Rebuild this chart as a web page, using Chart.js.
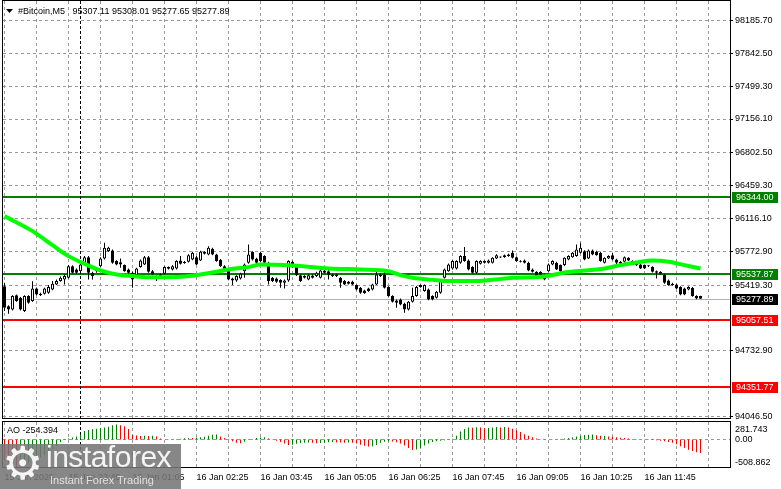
<!DOCTYPE html>
<html>
<head>
<meta charset="UTF-8">
<title>#Bitcoin,M5</title>
<script src="https://cdn.jsdelivr.net/npm/chart.js@4.4.1/dist/chart.umd.min.js"></script>
<style>
  body { margin: 0; background: #fff; width: 781px; height: 489px; overflow: hidden; position: relative; }
  #mainBox { position: absolute; left: 0; top: 0; width: 781px; height: 420px; }
  #aoBox { position: absolute; left: 0; top: 420px; width: 781px; height: 69px; }
  #logo { position: absolute; left: 0; top: 444px; width: 181px; height: 45px; background: rgba(118,118,118,0.88); color: rgba(255,255,255,0.92); overflow: hidden; font-family: "Liberation Sans", Arial, sans-serif; }
  #logo .gear { position: absolute; left: 2px; top: -7px; font: 46px/52px "DejaVu Sans"; }
  #logo .brand { position: absolute; left: 46px; top: -4px; font-size: 30px; line-height: 34px; letter-spacing: -0.5px; }
  #logo .slogan { position: absolute; left: 50px; top: 29px; font-size: 11px; line-height: 14px; color: rgba(255,255,255,0.75); }
</style>
</head>
<body>
<div id="mainBox"><canvas id="mainChart"></canvas></div>
<div id="aoBox"><canvas id="aoChart"></canvas></div>
<div id="logo"><span class="gear">⚙</span><span class="brand">instaforex</span><span class="slogan">Instant Forex Trading</span></div>
<script>
// M5 bars, oldest first (15 Jan 22:25 ... 16 Jan 12:55)
const open = [
  95409,95200,95166,95315,95287,95148,95305,95253,95385,95329,
  95329,95340,95375,95427,95462,95479,95496,95618,95584,95566,
  95636,95712,95549,95566,95618,95699,95775,95782,95671,95660,
  95629,95584,95549,95524,95608,95636,95712,95566,95514,95514,
  95538,95591,95584,95594,95678,95664,95664,95688,95712,95678,
  95768,95740,95800,95740,95685,95618,95573,95490,95469,95490,
  95566,95653,95765,95695,95758,95723,95653,95496,95490,95472,
  95444,95469,95664,95618,95524,95496,95479,95520,95514,95496,
  95573,95566,95531,95531,95496,95462,95455,95455,95420,95392,
  95364,95385,95375,95427,95514,95531,95399,95305,95260,95270,
  95225,95166,95246,95305,95420,95357,95375,95305,95287,95340,
  95496,95566,95594,95594,95653,95723,95678,95608,95549,95643,
  95653,95653,95653,95699,95715,95712,95723,95758,95712,95672,
  95678,95653,95584,95559,95559,95531,95566,95636,95653,95629,
  95629,95688,95712,95723,95758,95775,95699,95782,95768,95758,
  95653,95699,95733,95688,95664,95664,95705,95653,95653,95636,
  95629,95620,95608,95566,95559,95531,95469,95434,95427,95399,
  95385,95375,95392,95305,95307.11
];
const high = [
  95444,95210,95315,95322,95295,95315,95315,95461,95395,95340,
  95392,95420,95462,95479,95510,95531,95630,95628,95594,95671,
  95723,95723,95559,95594,95712,95862,95820,95792,95680,95698,
  95636,95594,95559,95601,95688,95723,95723,95577,95524,95540,
  95618,95615,95628,95680,95723,95671,95743,95768,95723,95778,
  95775,95827,95810,95747,95692,95628,95584,95496,95524,95549,
  95646,95845,95775,95705,95768,95733,95663,95505,95500,95482,
  95479,95680,95675,95628,95531,95524,95531,95531,95559,95584,
  95584,95577,95540,95540,95505,95472,95462,95465,95427,95400,
  95372,95392,95434,95573,95540,95584,95409,95315,95270,95280,
  95235,95255,95392,95410,95427,95427,95385,95315,95357,95472,
  95594,95646,95680,95680,95733,95817,95688,95618,95680,95680,
  95678,95688,95712,95743,95720,95740,95747,95782,95720,95680,
  95688,95663,95594,95566,95566,95540,95646,95680,95663,95636,
  95712,95733,95765,95845,95862,95785,95792,95792,95778,95768,
  95712,95733,95758,95695,95671,95720,95712,95680,95660,95646,
  95636,95628,95618,95573,95566,95538,95479,95444,95434,95409,
  95392,95409,95399,95315,95308.01
];
const low = [
  95148,95120,95155,95245,95155,95140,95225,95245,95315,95305,
  95322,95330,95365,95420,95455,95427,95490,95540,95538,95559,
  95628,95479,95479,95549,95608,95688,95765,95643,95628,95601,
  95559,95538,95392,95514,95601,95629,95549,95524,95462,95505,
  95531,95584,95573,95584,95636,95643,95656,95680,95629,95671,
  95740,95733,95733,95664,95608,95566,95470,95420,95455,95479,
  95496,95643,95678,95643,95660,95643,95427,95452,95445,95392,
  95385,95455,95600,95514,95452,95490,95470,95490,95505,95490,
  95540,95479,95505,95505,95392,95420,95427,95420,95365,95330,
  95329,95350,95364,95420,95505,95385,95297,95238,95183,95210,
  95131,95155,95238,95297,95392,95350,95262,95262,95280,95330,
  95490,95559,95584,95584,95643,95664,95573,95540,95538,95636,
  95646,95646,95646,95692,95702,95705,95716,95698,95664,95656,
  95646,95566,95552,95505,95505,95470,95559,95628,95577,95559,
  95620,95680,95705,95716,95750,95680,95692,95733,95726,95664,
  95646,95692,95680,95608,95636,95656,95671,95646,95620,95587,
  95587,95608,95552,95489,95531,95434,95413,95413,95378,95315,
  95315,95367,95297,95273,95277.65
];
const close = [
  95183,95166,95305,95253,95166,95305,95235,95385,95322,95315,
  95385,95399,95434,95462,95496,95514,95618,95549,95549,95636,
  95712,95549,95514,95584,95699,95810,95810,95653,95636,95636,
  95566,95549,95479,95594,95678,95712,95559,95531,95496,95531,
  95608,95608,95618,95671,95643,95650,95733,95758,95636,95768,
  95747,95810,95740,95671,95618,95573,95479,95469,95514,95538,
  95636,95740,95688,95653,95671,95653,95462,95462,95455,95444,
  95469,95671,95608,95524,95462,95514,95524,95496,95549,95573,
  95549,95524,95514,95514,95444,95427,95434,95427,95375,95340,
  95336,95357,95427,95531,95531,95392,95305,95246,95235,95218,
  95166,95246,95305,95399,95399,95420,95270,95270,95350,95462,
  95584,95636,95671,95671,95723,95671,95584,95549,95671,95671,
  95671,95678,95705,95733,95709,95733,95740,95705,95671,95664,
  95653,95573,95559,95514,95514,95479,95636,95671,95584,95566,
  95705,95723,95758,95793,95810,95688,95782,95740,95733,95671,
  95705,95723,95688,95653,95643,95712,95678,95671,95629,95594,
  95594,95616,95559,95549,95538,95444,95420,95420,95385,95322,
  95322,95399,95305,95280,95277.89
];

// moving average, read at these bar numbers
const maBar   = [0, 7, 12, 16, 20, 24, 28, 32, 36, 41, 45, 49, 53, 57, 61, 64, 72, 81,
                 89, 96, 99, 102, 107, 112, 117, 122, 127, 134, 141, 150, 154, 158, 162, 166, 170, 174];
const maValue = [96141, 95984, 95837, 95723, 95643, 95573, 95531, 95514, 95503, 95503, 95510, 95531,
                 95559, 95590, 95608, 95636, 95625, 95594, 95583, 95566, 95524, 95496, 95476, 95462,
                 95462, 95476, 95496, 95507, 95556, 95594, 95629, 95657, 95678, 95664, 95629, 95594];

// Awesome Oscillator, one value per bar
const aoValue = [
  -380,-430,-475,-508.862,-495,-470,-440,-405,-370,-330,
  -290,-240,-180,-120,-50,10,20,40,60,90,
  160,180,195,205,215,225,240,270,281.743,270,
  250,200,85,75,68,72,66,70,60,20,
  3,-5,8,12,15,25,30,28,40,45,
  55,70,90,95,60,30,-10,-30,-60,-70,
  -40,-10,10,30,40,45,20,5,-20,-45,
  -75,-100,-95,-80,-65,-60,-55,-60,-70,-65,
  -58,-50,-45,-50,-55,-60,-55,-60,-75,-95,
  -115,-130,-125,-100,-60,-40,-30,-35,-50,-75,
  -110,-160,-195,-185,-160,-110,-75,-45,-30,-22,
  -15,-5,15,70,150,200,225,220,232,225,
  212,218,226,234,228,236,225,205,175,140,
  100,70,45,20,5,-5,3,8,4,10,
  18,30,45,58,72,84,92,95,80,72,
  74,60,50,42,35,28,20,12,6,2,
  -3,-1,-8,-15,-22,-30,-45,-60,-90,-125,
  -160,-190,-215,-238,-254.394
];

const timeTicks = ['15 Jan 2026', '15 Jan 23:45', '16 Jan 01:05', '16 Jan 02:25', '16 Jan 03:45',
                   '16 Jan 05:05', '16 Jan 06:25', '16 Jan 07:45', '16 Jan 09:05', '16 Jan 10:25', '16 Jan 11:45'];
const priceTicks = [98185.70, 97842.50, 97499.30, 97156.10, 96802.50, 96459.30, 96116.10,
                    95772.90, 95419.30, 94732.90, 94046.50];
const levelValues = [96344.00, 95537.87, 95057.51, 94351.77];
const aoScaleLabels = [281.743, 0, -508.862];
const symbol = '#Bitcoin,M5';

// look
const FONT = '"Liberation Sans", Arial, sans-serif';
const GRID = '#999999';
const BID_LINE = '#b0b0b0';
const X_MIN = -0.375, X_MAX = 181.375;
const Y_MIN = 94030.8, Y_MAX = 98389.5;
const AO_MIN = -515, AO_MAX = 330;
const GRID_STEP = 8, TICK_STEP = 16, SEP_BAR = 19;
const LEVEL_COLORS = ['#008000', '#008000', '#ff0000', '#ff0000'];
const MA_COLOR = '#00ff00';
const AO_UP = '#008000', AO_DOWN = '#ff0000';
const last = close.length - 1;

Chart.defaults.font.family = FONT;
Chart.defaults.font.size = 9;
Chart.defaults.color = '#000';
Chart.defaults.animation = false;

function noPad(s) { s.paddingLeft = s.paddingRight = s.paddingTop = s.paddingBottom = 0; }

function xAxis(withLabels) {
  return {
    type: 'linear', min: X_MIN, max: X_MAX, offset: false,
    grid: { display: false, drawTicks: false, offset: false },
    border: { display: false },
    afterBuildTicks: s => {
      s.ticks = [];
      for (let k = 0; k <= X_MAX; k += TICK_STEP) s.ticks.push({ value: k });
    },
    ticks: {
      display: withLabels, autoSkip: false, maxRotation: 0, align: 'start', padding: 5,
      callback: v => timeTicks[v / TICK_STEP] || ''
    },
    afterFit: s => { s.height = withLabels ? 22 : 0; noPad(s); }
  };
}

// dashed grid through the scales: vertical every GRID_STEP bars, horizontal at the given values
function drawGrid(chart, yValues) {
  const { ctx, chartArea: a, scales: { x, y } } = chart;
  ctx.save();
  ctx.strokeStyle = GRID; ctx.lineWidth = 1; ctx.setLineDash([3, 3]);
  ctx.beginPath();
  for (let k = 0; k <= X_MAX; k += GRID_STEP) {
    const px = Math.floor(x.getPixelForValue(k)) + 0.5;
    ctx.moveTo(px, a.top); ctx.lineTo(px, a.bottom);
  }
  yValues.forEach(v => {
    const py = Math.floor(y.getPixelForValue(v)) + 0.5;
    ctx.moveTo(a.left, py); ctx.lineTo(a.right, py);
  });
  ctx.stroke();
  ctx.restore();
}

function separator(chart) {
  const { ctx, chartArea: a, scales: { x } } = chart;
  const px = Math.floor(x.getPixelForValue(SEP_BAR)) + 0.5;
  ctx.save();
  ctx.strokeStyle = '#000'; ctx.lineWidth = 1; ctx.setLineDash([3, 2]);
  ctx.beginPath(); ctx.moveTo(px, a.top); ctx.lineTo(px, a.bottom); ctx.stroke();
  ctx.restore();
}

function frame(chart) {
  const { ctx, chartArea: a } = chart;
  ctx.save();
  ctx.strokeStyle = '#000'; ctx.lineWidth = 1;
  ctx.strokeRect(a.left - 0.5, a.top - 0.5, a.right - a.left + 1, a.bottom - a.top + 1);
  ctx.restore();
}

const mainDecor = {
  id: 'mainDecor',
  beforeDatasetsDraw(chart) {
    const { ctx, chartArea: a, scales: { y } } = chart;
    drawGrid(chart, priceTicks);
    ctx.save();
    const bidY = Math.round(y.getPixelForValue(close[last])) + 0.5;
    ctx.strokeStyle = BID_LINE; ctx.lineWidth = 1;
    ctx.beginPath(); ctx.moveTo(a.left, bidY); ctx.lineTo(a.right, bidY); ctx.stroke();
    levelValues.forEach((v, i) => {
      const p = Math.round(y.getPixelForValue(v));
      ctx.strokeStyle = LEVEL_COLORS[i]; ctx.lineWidth = 2;
      ctx.beginPath(); ctx.moveTo(a.left, p); ctx.lineTo(a.right, p); ctx.stroke();
    });
    ctx.restore();
    separator(chart);
  },
  afterDraw(chart) {
    const { ctx, chartArea: a, scales: { y } } = chart;
    frame(chart);
    ctx.save();
    // small tick marks right of the price axis line
    ctx.strokeStyle = '#000'; ctx.lineWidth = 1;
    ctx.beginPath();
    priceTicks.forEach(v => {
      const py = Math.floor(y.getPixelForValue(v)) + 0.5;
      ctx.moveTo(a.right, py); ctx.lineTo(a.right + 3, py);
    });
    ctx.stroke();

    ctx.font = '9px ' + FONT;
    ctx.textBaseline = 'middle';
    ctx.textAlign = 'left';
    const tag = (v, bg) => {
      const p = Math.round(y.getPixelForValue(v));
      ctx.fillStyle = bg; ctx.fillRect(a.right + 2, p - 5, 46, 11);
      ctx.fillStyle = '#fff'; ctx.fillText(v.toFixed(2), a.right + 6, p + 0.5);
    };
    levelValues.forEach((v, i) => tag(v, LEVEL_COLORS[i]));
    tag(close[last], '#000');

    ctx.fillStyle = '#000';
    ctx.beginPath(); ctx.moveTo(6, 9); ctx.lineTo(13, 9); ctx.lineTo(9.5, 13); ctx.closePath(); ctx.fill();
    const quote = [open[last], high[last], low[last], close[last]].map(v => v.toFixed(2)).join(' ');
    ctx.fillText(symbol + '   ' + quote, 18, 11.5);
    ctx.restore();
  }
};

const aoDecor = {
  id: 'aoDecor',
  beforeDatasetsDraw(chart) { drawGrid(chart, [0]); separator(chart); },
  afterDraw(chart) {
    const { ctx, chartArea: a, scales: { y } } = chart;
    frame(chart);
    ctx.save();
    ctx.font = '9px ' + FONT;
    ctx.fillStyle = '#000';
    ctx.textAlign = 'left';
    aoScaleLabels.forEach((v, i) => {
      ctx.textBaseline = i === 0 ? 'top' : (i === aoScaleLabels.length - 1 ? 'bottom' : 'middle');
      ctx.fillText(v === 0 ? '0.00' : String(v), a.right + 5, y.getPixelForValue(v));
    });
    ctx.textBaseline = 'middle';
    ctx.fillText('AO ' + aoValue[last].toFixed(3), 7, 10.5);
    ctx.restore();
  }
};

new Chart(document.getElementById('mainChart'), {
  type: 'bar',
  data: {
    datasets: [
      {
        type: 'line',
        data: maBar.map((b, i) => ({ x: b, y: maValue[i] })),
        borderColor: MA_COLOR, borderWidth: 4, pointRadius: 0,
        cubicInterpolationMode: 'monotone', order: 0
      },
      {
        data: close.map((c, i) => ({ x: i, y: [open[i], c] })),
        backgroundColor: ctx => close[ctx.dataIndex] >= open[ctx.dataIndex] ? '#ffffff' : '#000000',
        borderColor: '#000', borderWidth: 1, borderSkipped: false,
        barThickness: 3, minBarLength: 1, grouped: false, inflateAmount: 0, order: 1
      },
      {
        data: high.map((h, i) => ({ x: i, y: [low[i], h] })),
        backgroundColor: '#000', borderWidth: 0,
        barThickness: 1, grouped: false, inflateAmount: 0, order: 2
      }
    ]
  },
  options: {
    responsive: true, maintainAspectRatio: false, events: [],
    layout: { padding: { left: 3, right: 0, top: 1, bottom: 2 } },
    plugins: { legend: { display: false }, tooltip: { enabled: false } },
    scales: {
      x: xAxis(false),
      y: {
        position: 'right', min: Y_MIN, max: Y_MAX, beginAtZero: false,
        grid: { display: false, drawTicks: false },
        border: { display: false },
        afterBuildTicks: s => { s.ticks = priceTicks.map(v => ({ value: v })); },
        ticks: { padding: 5, autoSkip: false, callback: v => Number(v).toFixed(2) },
        afterFit: s => { s.width = 51; noPad(s); }
      }
    }
  },
  plugins: [mainDecor]
});

new Chart(document.getElementById('aoChart'), {
  type: 'bar',
  data: {
    datasets: [{
      data: aoValue.map((v, i) => ({ x: i, y: v })),
      backgroundColor: ctx => {
        const i = ctx.dataIndex;
        return i > 0 && aoValue[i] >= aoValue[i - 1] ? AO_UP : AO_DOWN;
      },
      borderWidth: 0, barThickness: 1, grouped: false, inflateAmount: 0
    }]
  },
  options: {
    responsive: true, maintainAspectRatio: false, events: [],
    layout: { padding: { left: 3, right: 0, top: 2, bottom: 0 } },
    plugins: { legend: { display: false }, tooltip: { enabled: false } },
    scales: {
      x: xAxis(true),
      y: {
        position: 'right', min: AO_MIN, max: AO_MAX, beginAtZero: false,
        grid: { display: false, drawTicks: false },
        border: { display: false },
        ticks: { display: false },
        afterFit: s => { s.width = 51; noPad(s); }
      }
    }
  },
  plugins: [aoDecor]
});
</script>
</body>
</html>
